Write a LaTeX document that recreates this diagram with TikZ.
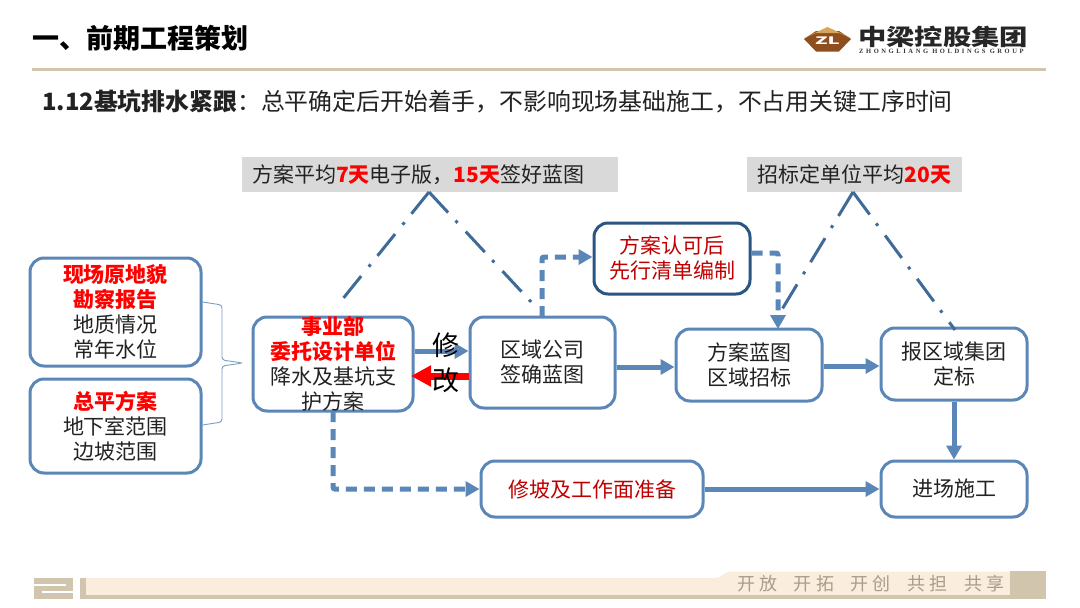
\documentclass[tikz,border=0pt]{standalone}
\usepackage{fontspec}
\setmainfont{Noto Sans CJK SC}
\newfontfamily\latinlogo[LetterSpace=40]{Liberation Serif Bold}
\usetikzlibrary{arrows.meta}
\definecolor{boxblue}{HTML}{5A86B8}
\definecolor{darkblue}{HTML}{2A5684}
\definecolor{chain}{HTML}{3F6B98}
\definecolor{lblgray}{HTML}{D9D9D9}
\definecolor{tan}{HTML}{D2C5AE}
\definecolor{band}{HTML}{FBEDDD}
\definecolor{txt}{HTML}{222222}
\definecolor{dred}{HTML}{C00000}
\definecolor{logobrown}{HTML}{8F4E1E}
\definecolor{logogold}{HTML}{D9A55A}
\definecolor{foottxt}{HTML}{A99C8A}
\newcommand{\fs}[2]{\fontsize{#1}{#2}\selectfont}
\newcommand{\rb}[1]{\textcolor{red}{\textbf{#1}}}
\tikzset{
 x=1pt,y=-1pt,
 flow/.style={draw=boxblue,line width=3pt,rounded corners=14pt,fill=white,inner sep=0pt,align=center,text=txt,font=\fs{21}{25}},
 tbox/.style={align=center,text=txt,font=\fs{21}{25},inner sep=0pt},
 glabel/.style={fill=lblgray,inner sep=0pt,text=txt,font=\fs{21}{25}},
 conn/.style={draw=boxblue,line width=5pt,-{Triangle[length=14pt,width=15pt]}},
 dconn/.style={conn,line width=5pt,dash pattern=on 11pt off 7pt},
 chainln/.style={draw=chain,line width=3pt,dash pattern=on 28pt off 11pt on 3pt off 12pt},
}
\begin{document}
\begin{tikzpicture}
\useasboundingbox (0,0) rectangle (1080,608);
\fill[white] (0,0) rectangle (1080,608);
% header
\node[anchor=west,inner sep=0pt,text=black,font=\fs{27}{30}\bfseries] (title) at (32,38) {一、前期工程策划};
\fill[tan] (32,68) rectangle (1046,70.5);
\node[anchor=west,inner sep=0pt,text=txt,font=\fs{23.85}{28}] (sub) at (42,101) {\textbf{1.12基坑排水紧跟}：总平确定后开始着手，不影响现场基础施工，不占用关键工序时间};
% logo
\fill[logobrown] (804,39) -- (816,31) -- (839,31) -- (851,39) -- (839,51.5) -- (816,51.5) -- cycle;
\fill[logogold] (804,38) -- (827.5,27) -- (851,38) -- (839,33) -- (816,33) -- cycle;
\node[inner sep=0pt,text=white,font=\fs{12}{12}\bfseries] (logoz) at (827.5,41) {\scalebox{1.7}[0.85]{ZL}};
\node[anchor=west,inner sep=0pt,text=black!85,font=\fs{22.5}{24}\bfseries] (logoc) at (858,37) {\scalebox{1.26}[1]{中梁控股集团}};
\node[anchor=west,inner sep=0pt,text=black!80,font=\fs{6.5}{7}\latinlogo] (logoe) at (859,51.5) {ZHONGLIANG HOLDINGS GROUP};
% labels
\node[glabel,minimum width=376pt,minimum height=35pt,text width=356pt] (g1) at (430,174.5) {方案平均\rb{7天}电子版，\rb{15天}签好蓝图};
\node[glabel,minimum width=215pt,minimum height=35pt] (g2) at (854.5,174.5) {招标定单位平均\rb{20天}};
% boxes
\node[flow,minimum width=171pt,minimum height=108pt] (L1) at (115.5,312) {\rb{现场原地貌}\\\rb{勘察报告}\\地质情况\\常年水位};
\node[flow,minimum width=171pt,minimum height=94pt] (L2) at (115.5,426) {\rb{总平方案}\\地下室范围\\边坡范围};
\node[flow,minimum width=160pt,minimum height=94pt] (A) at (333,364) {};
\node[flow,minimum width=145pt,minimum height=91pt] (B) at (542.5,362.5) {区域公司\\签确蓝图};
\node[flow,draw=darkblue,minimum width=156pt,minimum height=71pt] (C) at (672,258.5) {\textcolor{dred}{方案认可后}\\\textcolor{dred}{先行清单编制}};
\node[flow,minimum width=146pt,minimum height=72pt] (D) at (749,365) {方案蓝图\\区域招标};
\node[flow,minimum width=146pt,minimum height=72pt] (E) at (954,364) {报区域集团\\定标};
\node[flow,minimum width=222pt,minimum height=56pt] (F) at (592,489) {\textcolor{dred}{修坡及工作面准备}};
\node[flow,minimum width=146pt,minimum height=56pt] (G) at (954,489) {进场施工};
% brace
\coordinate (br1) at (L1.east |- 0,302);
\coordinate (br2) at (L2.east |- 0,425);
\coordinate (brtip) at (243,363);
\draw[draw=boxblue!80,line width=0.9pt,rounded corners=3pt] (br1) -- (222,305) -- (222,360) -- (brtip) -- (222,366) -- (222,422) -- (br2);
% connectors
\draw[conn] (A.east |- 0,351) -- (B.west |- 0,351);
\draw[draw=red,line width=7pt,-{Triangle[length=20pt,width=20pt]}] (B.west |- 0,376) -- (411,376);
\draw[conn] (B.east |- 0,367) -- (D.west |- 0,367);
\draw[conn] (D.east |- 0,366) -- (E.west |- 0,366);
\draw[conn] (E.south) -- (G.north);
\draw[conn] (F.east) -- (G.west);
\draw[dconn,rounded corners=2pt] (542,317) -- (542,257) -- (C.west |- 0,257);
\draw[dconn,rounded corners=2pt] (C.east |- 0,253) -- (778,253) -- (778,329);
\draw[dconn,rounded corners=2pt] (333,411) -- (333,489) -- (F.west);
% chain lines
\coordinate (p1a) at (337,306);
\coordinate (p1b) at (533,304);
\coordinate (p2a) at (781,311);
\coordinate (p2b) at (955,330);
\coordinate (p1t) at (429,192);
\coordinate (p2t) at (853,192);
\draw[chainln] (p1t) -- (p1a);
\draw[chainln] (p1t) -- (p1b);
\draw[chainln] (p2t) -- (p2a);
\draw[chainln] (p2t) -- (p2b);
% text over
\node[tbox] (Atext) at (333,363.5) {\rb{事业部}\\\rb{委托设计单位}\\降水及基坑支\\护方案};
\node[inner sep=0pt,text=black,font=\fs{27}{35},align=center] (xg) at (446,363) {修\\改};
% footer
\fill[band] (86,578) -- (715,578) .. controls (722,578) and (724,571.5) .. (732,571.5) -- (1012,571.5) -- (1012,597) -- (86,597) -- cycle;
\fill[tan] (80,595) rectangle (1046,598.7);
\fill[tan] (1010,570.7) rectangle (1046,598.7);
\fill[tan] (34,578) rectangle (73,598.7);
\fill[white] (34,583.5) rectangle (66,586);
\fill[white] (42,590.5) rectangle (73,593);
\fill[tan] (80,578) rectangle (86,598.7);
\node[anchor=west,inner sep=0pt,text=foottxt,font=\fs{18}{20}] (ft) at (737,584) {开\hspace{4.3pt}放\hspace{16.4pt}开\hspace{4.3pt}拓\hspace{16.4pt}开\hspace{4.3pt}创\hspace{16.4pt}共\hspace{4.3pt}担\hspace{16.4pt}共\hspace{4.3pt}享};
\end{tikzpicture}
\end{document}
